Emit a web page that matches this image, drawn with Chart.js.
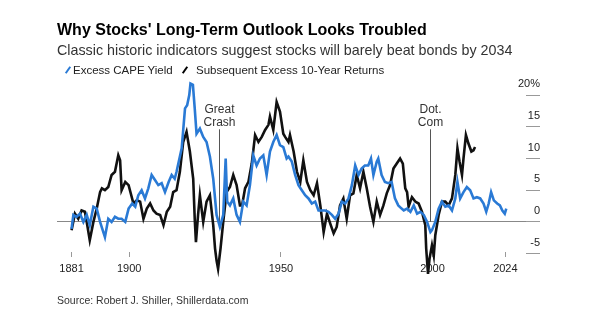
<!DOCTYPE html>
<html>
<head>
<meta charset="utf-8">
<script src="https://cdn.jsdelivr.net/npm/chart.js@4.4.1/dist/chart.umd.min.js"></script>
<style>
  body { margin: 0; background: #fff; font-family: "Liberation Sans", Arial, sans-serif; }
  #wrap { position: relative; width: 616px; height: 328px; overflow: hidden; }
  #chart { position: absolute; left: 0; top: 0; }
  .txt { position: absolute; white-space: nowrap; }
  #title { left: 57px; top: 21.5px; font-size: 16px; line-height: 16px; font-weight: bold; color: #000; }
  #subtitle { left: 57px; top: 43px; font-size: 14.3px; line-height: 14.3px; color: #333; }
  .legText { top: 64.5px; font-size: 11.5px; line-height: 11.5px; color: #222; }
  .legIcon { position: absolute; top: 66px; width: 2px; height: 8px; transform: rotate(35deg); }
  #source { left: 57px; top: 295px; font-size: 10.5px; line-height: 10.5px; color: #333; }
</style>
</head>
<body>
<div id="wrap">
  <canvas id="chart" width="616" height="328"></canvas>
  <div class="txt" id="title">Why Stocks' Long-Term Outlook Looks Troubled</div>
  <div class="txt" id="subtitle">Classic historic indicators suggest stocks will barely beat bonds by 2034</div>
  <div class="legIcon" style="left:67px; background:#2a7ad5"></div>
  <div class="txt legText" style="left:73px">Excess CAPE Yield</div>
  <div class="legIcon" style="left:184px; background:#000"></div>
  <div class="txt legText" style="left:196px">Subsequent Excess 10-Year Returns</div>
  <div class="txt" id="source">Source: Robert J. Shiller, Shillerdata.com</div>
</div>
<script>
var blue = '#2a7ad5'
var black = '#111111'

// Excess CAPE yield (%)
var capeYears = [1881.0, 1881.6, 1882.6, 1883.8, 1884.9, 1886.0, 1887.0, 1888.2, 1889.3, 1890.4,
	1892.0, 1893.1, 1894.2, 1895.3, 1896.4, 1897.5, 1898.7, 1899.8, 1901.0, 1902.0,
	1903.0, 1904.1, 1905.2, 1906.3, 1907.4, 1908.5, 1909.6, 1910.7, 1911.8, 1913.0,
	1914.0, 1915.0, 1915.6, 1917.3, 1918.4, 1919.1, 1919.8, 1920.2, 1921.0, 1921.6,
	1922.2, 1923.3, 1924.4, 1925.5, 1926.6, 1927.7, 1928.8, 1929.9, 1931.0, 1931.8,
	1932.3, 1933.2, 1934.3, 1935.4, 1936.5, 1937.6, 1938.7, 1939.8, 1940.9, 1942.0,
	1943.1, 1944.2, 1945.3, 1946.4, 1947.5, 1948.6, 1949.7, 1950.8, 1951.9, 1952.5,
	1953.6, 1954.7, 1955.8, 1956.9, 1958.0, 1959.1, 1960.2, 1961.3, 1962.4, 1963.5,
	1964.6, 1965.7, 1966.8, 1967.9, 1969.0, 1970.1, 1971.2, 1972.3, 1973.4, 1974.5,
	1975.6, 1976.6, 1977.7, 1978.8, 1979.7, 1980.5, 1981.6, 1982.1, 1983.2, 1984.3,
	1985.4, 1986.5, 1987.6, 1988.7, 1989.8, 1990.5, 1991.6, 1992.7, 1993.8, 1994.9,
	1996.0, 1997.1, 1998.2, 1999.3, 1999.8, 2000.9, 2002.0, 2003.1, 2004.2, 2005.3,
	2006.4, 2007.5, 2008.2, 2009.1, 2010.2, 2011.3, 2012.4, 2013.5, 2014.6, 2015.7,
	2016.8, 2017.7, 2018.5, 2019.3, 2020.2, 2021.3, 2022.2, 2023.0, 2023.8, 2024.3]
var capeValues = [-1.1, 1.1, 0.8, 1.3, 0.0, 1.1, -0.5, 2.4, 2.1, 0.0,
	-2.4, 0.5, 0.0, 0.8, 0.5, 0.5, 0.0, 2.1, 2.9, 2.4,
	4.2, 5.0, 3.7, 5.3, 7.4, 6.6, 5.8, 6.1, 4.7, 6.3,
	7.4, 6.8, 7.9, 11.6, 17.9, 18.4, 20.0, 21.8, 21.6, 17.9,
	13.9, 14.7, 13.4, 12.6, 10.3, 6.8, 1.1, -0.8, 1.1, 10.0,
	3.2, 2.6, 3.7, 1.1, 0.0, 3.2, 2.6, 5.8, 10.5, 8.9,
	10.0, 10.5, 7.4, 11.1, 12.6, 13.7, 12.1, 11.8, 10.0, 10.3,
	9.5, 7.4, 5.8, 5.0, 4.2, 3.7, 2.9, 3.2, 1.8, 1.8,
	1.8, 1.6, 1.1, 0.5, 1.3, 3.2, 2.9, 3.7, 5.8, 8.9,
	7.4, 8.4, 8.9, 8.9, 10.0, 7.4, 9.5, 10.0, 7.4, 6.3,
	6.1, 6.3, 3.7, 2.6, 2.1, 1.8, 2.1, 1.6, 2.6, 1.3,
	1.6, 1.1, 0.0, -1.6, -1.3, 0.0, 2.1, 3.2, 2.4, 2.6,
	1.8, 3.7, 6.3, 3.7, 4.7, 5.5, 5.0, 3.7, 3.9, 3.7,
	2.9, 1.6, 2.9, 4.7, 3.4, 2.9, 2.6, 1.8, 1.3, 2.1]

// Subsequent excess 10-year returns (%)
var returnYears = [1881.0, 1882.1, 1883.2, 1884.3, 1885.4, 1886.0, 1887.0, 1888.2, 1889.3, 1890.4,
	1891.0, 1892.0, 1893.1, 1894.2, 1895.3, 1896.4, 1897.0, 1897.5, 1898.7, 1899.8,
	1901.4, 1902.5, 1903.6, 1904.7, 1905.8, 1906.9, 1908.0, 1909.0, 1910.2, 1911.3,
	1912.4, 1913.5, 1914.5, 1915.6, 1916.7, 1917.8, 1918.9, 1920.0, 1921.1, 1921.6,
	1922.0, 1922.7, 1923.3, 1924.4, 1925.5, 1926.6, 1927.7, 1928.3, 1928.8, 1929.3,
	1930.1, 1931.0, 1932.1, 1933.2, 1934.3, 1935.4, 1936.5, 1937.2, 1938.2, 1939.3,
	1940.4, 1941.5, 1942.6, 1943.7, 1944.8, 1945.9, 1946.4, 1947.5, 1948.6, 1949.7,
	1950.8, 1951.4, 1952.5, 1953.0, 1954.2, 1955.3, 1956.4, 1957.4, 1958.6, 1959.7,
	1960.8, 1961.9, 1963.0, 1964.1, 1965.2, 1966.3, 1967.4, 1968.4, 1969.5, 1970.6,
	1971.7, 1972.8, 1973.9, 1975.0, 1976.1, 1977.2, 1978.3, 1979.4, 1980.5, 1981.6,
	1982.7, 1983.8, 1984.9, 1986.0, 1987.1, 1988.2, 1989.3, 1990.2, 1991.0, 1991.6,
	1992.1, 1993.2, 1994.3, 1995.4, 1996.5, 1997.6, 1997.9, 1998.5, 1999.0, 1999.8,
	2000.4, 2000.9, 2002.0, 2003.1, 2004.2, 2005.3, 2006.4, 2007.5, 2008.2, 2008.9,
	2009.7, 2010.2, 2011.0, 2011.8, 2012.8, 2013.5, 2014.0]
var returnValues = [-1.3, 1.3, 0.5, 1.8, 1.6, 0.0, -2.9, 0.0, 2.1, 4.7,
	5.3, 5.0, 5.5, 7.4, 7.9, 10.5, 9.7, 5.0, 6.3, 5.8,
	2.9, 3.4, 3.2, 0.5, 2.1, 2.9, 1.8, 1.3, 1.1, -0.5,
	1.6, 2.4, 4.7, 5.0, 7.9, 12.6, 14.2, 11.1, 6.8, 0.5,
	-3.2, 1.1, 4.2, 0.0, 3.2, 4.2, -0.5, -4.2, -6.1, -7.4,
	-4.2, 0.0, 4.7, 5.5, 7.4, 5.8, 2.6, 2.6, 5.3, 6.3,
	9.2, 13.7, 12.6, 13.4, 14.5, 15.3, 16.6, 14.5, 18.9, 17.4,
	13.9, 13.4, 12.6, 13.7, 11.1, 7.9, 6.3, 9.7, 6.3, 5.0,
	4.2, 6.1, 2.6, -1.6, 1.3, -0.3, -1.8, -0.8, 2.6, 3.7,
	0.5, 4.2, 4.5, 7.4, 5.3, 7.9, 5.3, 2.4, 0.0, 3.2,
	1.1, 2.6, 4.5, 5.8, 8.4, 9.2, 10.0, 9.2, 5.3, 4.7,
	2.4, 3.9, 3.2, 2.9, 1.6, -0.5, -4.2, -8.2, -5.8, -3.7,
	-5.3, -2.1, 1.1, 3.2, 3.2, 2.6, 3.7, 7.4, 11.6, 9.5,
	7.4, 10.0, 13.7, 12.4, 11.1, 11.3, 11.8]

var xTicks = [1881, 1900, 1950, 2000, 2024]
var yTicks = [-5, 0, 5, 10, 15, 20]

var eventYears = [1929.5, 1999.3]
var eventLabels = [['Great', 'Crash'], ['Dot.', 'Com']]
var eventTop = 14.6

function toPoints(xs, ys){
	var pts = []
	for(var i = 0; i < xs.length; i++){
		pts.push({x: xs[i], y: ys[i]})
	}
	return pts
}

// vertical event markers, drawn under the lines
var eventPlugin = {
	id: 'events',
	beforeDatasetsDraw: function(chart){
		var ctx = chart.ctx
		var xs = chart.scales.x
		var ys = chart.scales.y
		ctx.save()
		for(var i = 0; i < eventYears.length; i++){
			var px = Math.round(xs.getPixelForValue(eventYears[i])) + 0.5
			var top = ys.getPixelForValue(eventTop)
			ctx.strokeStyle = '#555'
			ctx.lineWidth = 1
			ctx.beginPath()
			ctx.moveTo(px, top)
			ctx.lineTo(px, ys.getPixelForValue(0))
			ctx.stroke()
			ctx.fillStyle = '#333'
			ctx.font = '12px "Liberation Sans", Arial, sans-serif'
			ctx.textAlign = 'center'
			ctx.textBaseline = 'middle'
			ctx.fillText(eventLabels[i][0], px, top - 20)
			ctx.fillText(eventLabels[i][1], px, top - 6.5)
		}
		ctx.restore()
	}
}

Chart.defaults.font.family = '"Liberation Sans", Arial, sans-serif'

new Chart(document.getElementById('chart'), {
	type: 'line',
	data: {
		datasets: [
			{
				label: 'Excess CAPE Yield',
				data: toPoints(capeYears, capeValues),
				borderColor: blue,
				borderWidth: 2.6,
				pointRadius: 0,
				tension: 0,
				clip: false
			},
			{
				label: 'Subsequent Excess 10-Year Returns',
				data: toPoints(returnYears, returnValues),
				borderColor: black,
				borderWidth: 2.6,
				pointRadius: 0,
				tension: 0,
				clip: false
			}
		]
	},
	options: {
		responsive: false,
		animation: false,
		layout: {padding: {left: 57, right: 76, top: 76, bottom: 49}},
		plugins: {legend: {display: false}, tooltip: {enabled: false}},
		scales: {
			x: {
				type: 'linear',
				min: 1876.2,
				max: 2030.8,
				position: {y: -4.8},
				afterBuildTicks: function(s){ s.ticks = xTicks.map(v => ({value: v})) },
				ticks: {
					callback: v => String(v),
					autoSkip: false,
					maxRotation: 0,
					padding: 5,
					color: '#222',
					font: {size: 11}
				},
				grid: {drawOnChartArea: false, tickLength: 5, color: '#999'},
				border: {display: false}
			},
			y: {
				position: 'right',
				min: -9,
				max: 23,
				afterBuildTicks: function(s){ s.ticks = yTicks.map(v => ({value: v})) },
				afterFit: function(s){ s.width = 14 },
				ticks: {
					mirror: true,
					padding: 14,
					labelOffset: -11,
					callback: v => v === 20 ? '20%' : String(v),
					color: '#222',
					font: {size: 11}
				},
				grid: {
					color: c => (c.tick && c.tick.value === 0) ? '#888' : 'rgba(0,0,0,0)',
					tickColor: '#999',
					tickLength: 14
				},
				border: {display: false}
			}
		}
	},
	plugins: [eventPlugin]
})
</script>
</body>
</html>
